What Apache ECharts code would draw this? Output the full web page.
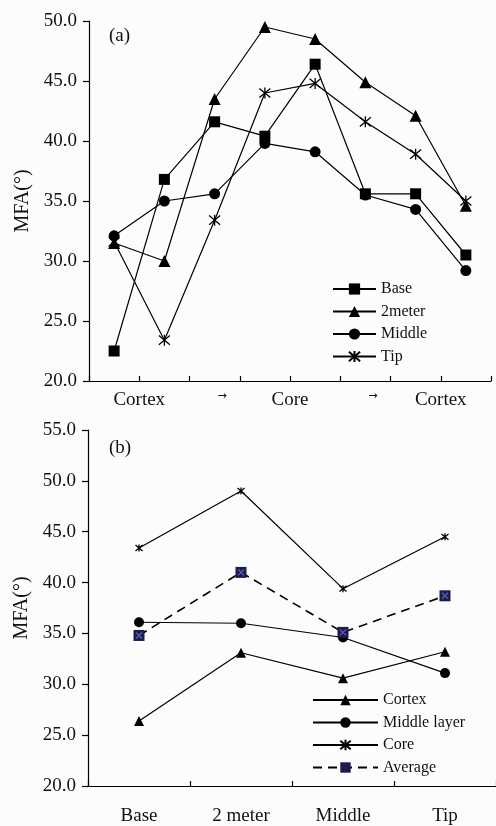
<!DOCTYPE html>
<html>
<head>
<meta charset="utf-8">
<script src="https://cdn.jsdelivr.net/npm/echarts@6/dist/echarts.min.js"></script>
<style>html,body{margin:0;padding:0;background:#fcfcfc;}#c{width:496px;height:826px;}</style>
</head>
<body>
<div id="c"></div>
<script>
// ---- Data: panel (a) ----
const topNames = ['Base', '2meter', 'Middle', 'Tip'];
const topBase   = [22.5, 36.8, 41.6, 40.4, 46.4, 35.6, 35.6, 30.5];
const top2meter = [31.5, 30.0, 43.5, 49.5, 48.5, 44.9, 42.1, 34.6];
const topMiddle = [32.1, 35.0, 35.6, 39.8, 39.1, 35.5, 34.3, 29.2];
const topTip    = [31.6, 23.4, 33.4, 44.0, 44.8, 41.6, 38.9, 35.0];
const topXLabels = ['Cortex', '→', 'Core', '→', 'Cortex'];
// ---- Data: panel (b) ----
const botCats = ['Base', '2 meter', 'Middle', 'Tip'];
const botNames = ['Cortex', 'Middle layer', 'Core', 'Average'];
const botCortex  = [26.4, 33.1, 30.6, 33.2];
const botMiddle  = [36.1, 36.0, 34.6, 31.1];
const botCore    = [43.4, 49.0, 39.4, 44.5];
const botAverage = [34.8, 41.0, 35.1, 38.7];

const FONT = '"Liberation Serif", "Times New Roman", serif';
const asterisk = 'path://M0,0L10,10M10,0L0,10M5,-1L5,11';
const xmark = 'path://M0,0L10,10M10,0L0,10';
const pts = arr => arr.map((v, i) => [i + 0.5, v]);
const labelPos = [1, 2.65, 4, 5.65, 7];

function lineSeries(name, data, symbol, size, xi, yi, extra) {
  return Object.assign({
    name: name, type: 'line', data: data, xAxisIndex: xi, yAxisIndex: yi,
    symbol: symbol, symbolSize: size, showAllSymbol: true,
    lineStyle: {color: '#000', width: 1.2},
    itemStyle: {color: '#000', borderColor: '#000', borderWidth: symbol.startsWith('path') ? 1.3 : 0},
    emphasis: {disabled: true}, animation: false, z: 3
  }, extra || {});
}

const chart = echarts.init(document.getElementById('c'), null, {renderer: 'canvas'});
const yLab = {fontFamily: FONT, fontSize: 19, color: '#111', margin: 12, formatter: v => v.toFixed(1)};
const axLine = {show: true, lineStyle: {color: '#000', width: 1.2}};

chart.setOption({
  backgroundColor: '#fcfcfc',
  animation: false,
  title: [
    {text: '(a)', left: 104, top: 22, textStyle: {fontFamily: FONT, fontSize: 19, fontWeight: 'normal', color: '#111'}},
    {text: '(b)', left: 104, top: 434, textStyle: {fontFamily: FONT, fontSize: 19, fontWeight: 'normal', color: '#111'}}
  ],
  grid: [
    {left: 89, top: 21, width: 402, height: 360},
    {left: 88, top: 430, width: 412, height: 357}
  ],
  legend: [
    {data: topNames, orient: 'vertical', left: 327, top: 276, itemWidth: 43, itemHeight: 14, itemGap: 6.5,
     textStyle: {fontFamily: FONT, fontSize: 16, color: '#111'}},
    {data: botNames, orient: 'vertical', left: 307, top: 687, itemWidth: 65, itemHeight: 13, itemGap: 6.5,
     textStyle: {fontFamily: FONT, fontSize: 16, color: '#111'}}
  ],
  xAxis: [
    {type: 'value', gridIndex: 0, min: 0, max: 8, interval: 1, axisLine: axLine,
     axisTick: {show: true, inside: true, length: 5, lineStyle: {color: '#000', width: 1.2}},
     axisLabel: {show: false}, splitLine: {show: false}},
    {type: 'value', gridIndex: 0, min: 0, max: 8, interval: 0.05, position: 'bottom',
     axisLine: {show: false}, axisTick: {show: false}, splitLine: {show: false},
     axisLabel: {show: true, margin: 10, fontFamily: FONT, fontSize: 19, color: '#111',
       formatter: function (v) {
         for (let k = 0; k < labelPos.length; k++) {
           if (Math.abs(v - labelPos[k]) < 0.01) {
             return topXLabels[k] === '→' ? '{a|→}' : topXLabels[k];
           }
         }
         return '';
       },
       rich: {a: {fontSize: 11, fontFamily: 'DejaVu Sans', color: '#111'}}}},
    {type: 'category', gridIndex: 1, data: botCats, boundaryGap: true, axisLine: axLine,
     axisTick: {show: true, inside: true, length: 5, lineStyle: {color: '#000', width: 1.2}},
     axisLabel: {margin: 21, fontFamily: FONT, fontSize: 19, color: '#111'}, splitLine: {show: false}}
  ],
  yAxis: [
    {type: 'value', gridIndex: 0, min: 20, max: 50, interval: 5, axisLine: axLine,
     axisTick: {show: true, length: 6, lineStyle: {color: '#000', width: 1.2}},
     axisLabel: yLab, splitLine: {show: false},
     name: 'MFA(°)', nameLocation: 'middle', nameGap: 56, nameRotate: 90,
     nameTextStyle: {fontFamily: FONT, fontSize: 20, color: '#111'}},
    {type: 'value', gridIndex: 1, min: 20, max: 55, interval: 5, axisLine: axLine,
     axisTick: {show: true, length: 6, lineStyle: {color: '#000', width: 1.2}},
     axisLabel: yLab, splitLine: {show: false},
     name: 'MFA(°)', nameLocation: 'middle', nameGap: 55, nameRotate: 90,
     nameTextStyle: {fontFamily: FONT, fontSize: 20, color: '#111'}}
  ],
  series: [
    lineSeries('Base', pts(topBase), 'rect', 11, 0, 0),
    lineSeries('2meter', pts(top2meter), 'triangle', 12, 0, 0),
    lineSeries('Middle', pts(topMiddle), 'circle', 11, 0, 0),
    lineSeries('Tip', pts(topTip), asterisk, 11, 0, 0),
    lineSeries('Cortex', botCortex, 'triangle', 10, 2, 1),
    lineSeries('Middle layer', botMiddle, 'circle', 10, 2, 1),
    lineSeries('Core', botCore, asterisk, 7, 2, 1),
    lineSeries('Average', botAverage, 'rect', 11, 2, 1, {
      lineStyle: {color: '#000', width: 1.6, type: [9, 6]},
      itemStyle: {color: '#1c1c4c', borderColor: '#1c1c4c', borderWidth: 0}, z: 4}),
    {name: 'AverageMark', type: 'scatter', data: botAverage, xAxisIndex: 2, yAxisIndex: 1,
     symbol: xmark, symbolSize: 6, itemStyle: {color: '#6f6fd8', borderColor: '#6f6fd8', borderWidth: 1.2},
     emphasis: {disabled: true}, z: 5, silent: true}
  ]
});
</script>
</body>
</html>
